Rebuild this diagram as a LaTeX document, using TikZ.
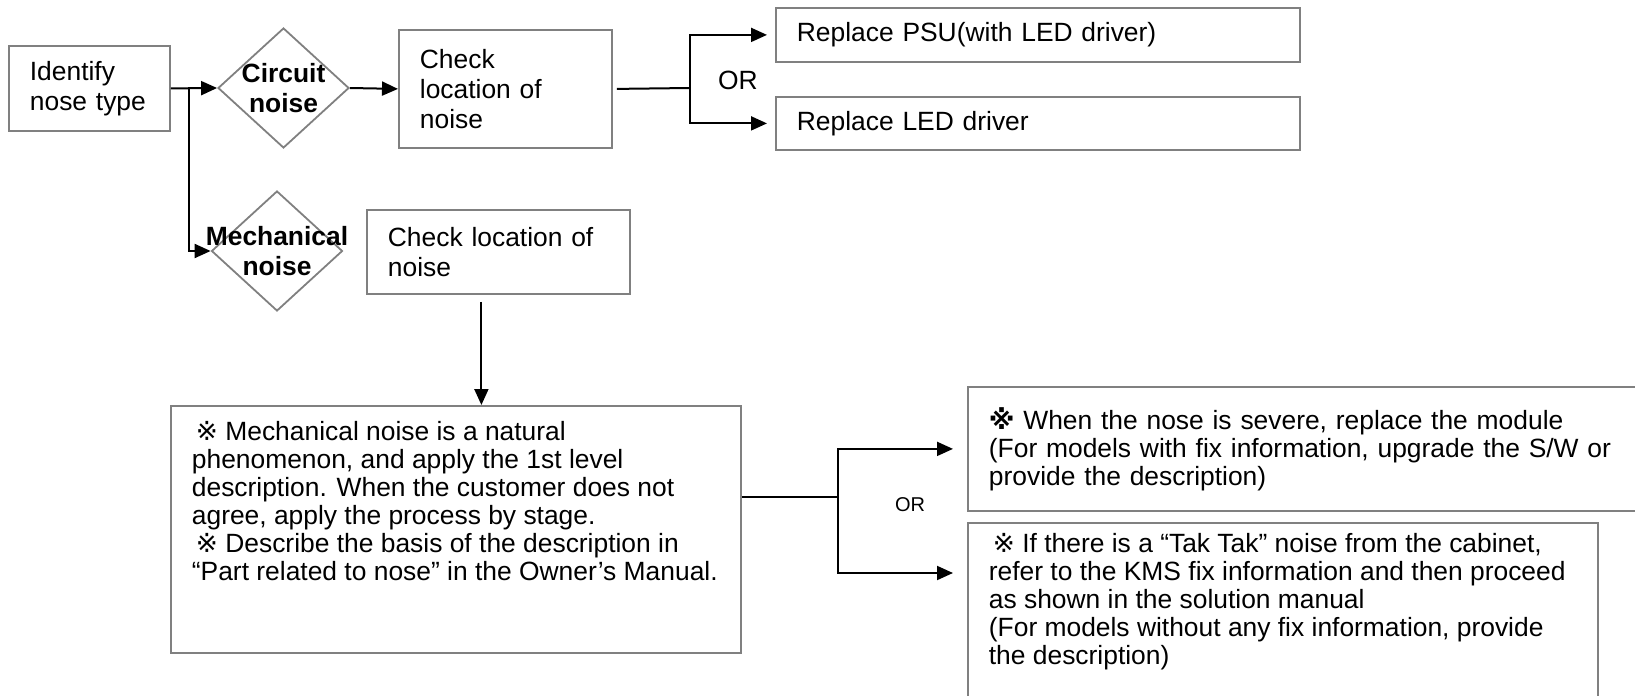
\documentclass[tikz,border=0pt]{standalone}
\usepackage{fontspec}
\setmainfont{Liberation Sans}
\newfontfamily\marksfont{DejaVu Sans}
\usetikzlibrary{arrows.meta,shapes.geometric,calc}

\definecolor{boxgray}{RGB}{128,128,128}
\newcommand{\refmark}{{\marksfont ※}}

\begin{document}
\begin{tikzpicture}[
		x=0.5pt, y=-0.5pt,
		font=\fontsize{13.2pt}{15pt}\selectfont,
		>={Triangle[length=8pt,width=7pt]},
		box/.style={draw=boxgray, line width=0.9pt, anchor=north west, align=left, inner xsep=10.5pt, inner ysep=0pt},
		note/.style={font=\fontsize{13.2pt}{14pt}\selectfont},
		dia/.style={draw=boxgray, line width=0.9pt, diamond, inner sep=0pt, minimum width=65.5pt, minimum height=60pt},
		diatext/.style={font=\fontsize{13.2pt}{15pt}\selectfont\bfseries, align=center},
		flow/.style={line width=1pt}
		]
		
		\useasboundingbox (0,0) rectangle (1635,696);
		
		% start and the two kinds of noise
		\node[box, text width=59.5pt, minimum height=42.5pt] (ident) at (8,45) {Identify\\nose type};
		\node[dia] (circ) at (283.5,88) {};
		\node[diatext] (circtxt) at (circ) {Circuit\\noise};
		\node[dia] (mech) at (277,251) {};
		\node[diatext] (mechtxt) at (mech) {Mechanical\\noise};
		
		% circuit branch
		\node[box, text width=85.5pt, minimum height=59pt] (chk1) at (398,29) {Check\\location of\\noise};
		\node[box, text width=241pt, minimum height=27pt] (rep1) at (775,7) {Replace PSU(with LED driver)};
		\node[box, text width=241pt, minimum height=26.5pt] (rep2) at (775,96) {Replace LED driver};
		\node (or1) at (738,80) {OR};
		
		% mechanical branch
		\node[box, text width=110.5pt, minimum height=42pt] (chk2) at (366,209) {Check location of\\noise};
		\node[box, note, inner ysep=7.5pt] (big) at (170,405) {\parbox[c][108.5pt][t]{264pt}{%
				\hspace*{2pt}\refmark{} Mechanical noise is a natural\\
				phenomenon, and apply the 1st level\\
				description. When the customer does not\\
				agree, apply the process by stage.\\
				\hspace*{2pt}\refmark{} Describe the basis of the description in\\
				“Part related to nose” in the Owner’s Manual.}};
		\node[box, note, text width=315.5pt, minimum height=62pt] (fix1) at (967,386) {%
			\textbf{\refmark} When the nose is severe, replace the module\\
			(For models with fix information, upgrade the S/W or\\
			provide the description)};
		\node[box, note, inner ysep=5pt] (fix2) at (967,522) {\parbox[c][79pt][t]{294pt}{%
				\hspace*{2pt}\refmark{} If there is a “Tak Tak” noise from the cabinet,\\
				refer to the KMS fix information and then proceed\\
				as shown in the solution manual\\
				(For models without any fix information, provide\\
				the description)}};
		\node[font=\fontsize{10pt}{12pt}\selectfont] (or2) at (910,505) {OR};
		
		% connectors
		\coordinate (split) at ($(ident.east)+(18,0)$);
		\draw[flow,->] (ident.east) -- (circ.west);
		\draw[flow,->] (split) |- (mech.west);
		\draw[flow,->] (circ.east) -- (chk1.west);
		
		\coordinate (fork1) at (690,88);
		\draw[flow] ([xshift=2pt]chk1.east) -- (fork1);
		\draw[flow,->,shorten >=4pt] (fork1) |- (rep1.west);
		\draw[flow,->,shorten >=4pt] (fork1) |- (rep2.west);
		
		\coordinate (c2out) at ($(chk2.south)+(-17,7)$);
		\draw[flow,->] (c2out) -- (c2out |- big.north);
		
		\coordinate (fork2) at (838,497);
		\coordinate (fix2in) at ($(fix2.north west)+(0,51)$);
		\draw[flow] (big.east |- fork2) -- (fork2);
		\draw[flow,->,shorten >=7pt] (fork2) |- (fix1.west);
		\draw[flow,->,shorten >=7pt] (fork2) |- (fix2in);
		
	\end{tikzpicture}
\end{document}
